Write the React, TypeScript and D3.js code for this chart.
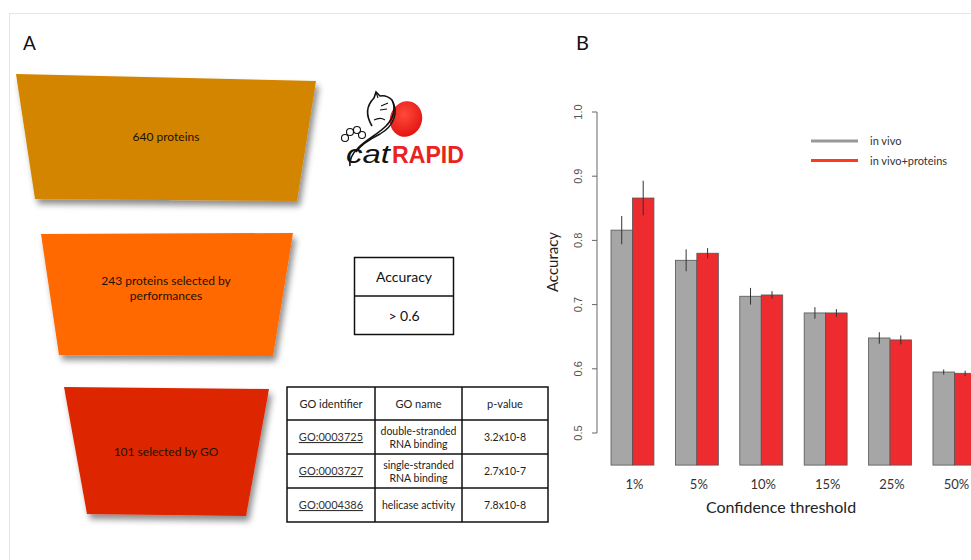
import React from "react";
import * as d3 from "d3";

const categories = ["1%", "5%", "10%", "15%", "25%", "50%"];
const seriesNames = ["in vivo", "in vivo+proteins"];
const inVivo = [0.816, 0.769, 0.713, 0.687, 0.648, 0.595];
const inVivoErr = [0.022, 0.017, 0.013, 0.009, 0.009, 0.004];
const inVivoProt = [0.866, 0.780, 0.715, 0.687, 0.645, 0.593];
const inVivoProtErr = [0.027, 0.008, 0.006, 0.006, 0.007, 0.004];
const yTicks = [0.5, 0.6, 0.7, 0.8, 0.9, 1.0];

const funnelLabels = [["640 proteins"], ["243 proteins selected by", "performances"], ["101 selected by GO"]];
const funnelColors = ["#d38500", "#ff6900", "#dd2600"];

const tableHeader = ["GO identifier", "GO name", "p-value"];
const goIds = ["GO:0003725", "GO:0003727", "GO:0004386"];
const goNames = [["double-stranded", "RNA binding"], ["single-stranded", "RNA binding"], ["helicase activity"]];
const pValues = ["3.2x10-8", "2.7x10-7", "7.8x10-8"];

const FONT = "Lato, 'Open Sans', sans-serif";

export default function App() {
  const y = d3.scaleLinear().domain([0.5, 1.0]).range([433, 112]);
  const x0 = d3.scaleBand<string>().domain(categories).range([611, 611 + 6 * 64.4 - 21.5]).paddingInner(1 / 3).paddingOuter(0);
  const x1 = d3.scaleBand<string>().domain(seriesNames).range([0, x0.bandwidth()]);
  const base = y(0.45);
  const series = [
    { name: seriesNames[0], vals: inVivo, errs: inVivoErr, color: "#a6a6a6" },
    { name: seriesNames[1], vals: inVivoProt, errs: inVivoProtErr, color: "#ee2b2e" },
  ];

  const funnels = [
    [[16, 74], [316, 81], [297, 201], [35, 199]],
    [[41, 234], [293, 233], [273, 356], [59, 355]],
    [[64, 387], [269, 389], [246, 516], [87, 514]],
  ];
  const funnelTextY = [141, 292, 456];

  const colX = [287, 375, 462, 548];
  const rowY = [387, 420, 454, 488, 522];

  return (
    <div style={{ position: "absolute", left: 0, top: 0 }}>
      <svg width={971} height={560} style={{ display: "block", background: "#fff" }}>
        <defs>
          <filter id="sh" x="-10%" y="-10%" width="130%" height="140%">
            <feDropShadow dx="3" dy="5" stdDeviation="3" floodColor="#000" floodOpacity="0.45" />
          </filter>
          <radialGradient id="blob" cx="0.4" cy="0.4" r="0.7">
            <stop offset="0" stopColor="#ff4a3a" />
            <stop offset="1" stopColor="#e0100f" />
          </radialGradient>
        </defs>
        {/* frame */}
        <line x1={9} y1={13.5} x2={971} y2={13.5} stroke="#e6e6e6" />
        <line x1={9.5} y1={13} x2={9.5} y2={560} stroke="#e6e6e6" />

        <text x={23} y={50} fontFamily={FONT} fontSize={19} fill="#111">A</text>
        <text x={576} y={50} fontFamily={FONT} fontSize={20} fill="#111">B</text>

        {/* funnel */}
        {funnels.map((pts, i) => (
          <g key={i}>
            <polygon points={pts.map((p) => p.join(",")).join(" ")} fill={funnelColors[i]} filter="url(#sh)" />
            {funnelLabels[i].map((t, j) => (
              <text key={j} x={166} y={funnelTextY[i] + (j - (funnelLabels[i].length - 1) / 2) * 15} textAnchor="middle" fontFamily={FONT} fontSize={12} fill="#1e1200">{t}</text>
            ))}
          </g>
        ))}

        {/* logo */}
        <g>
          <ellipse cx={406} cy={119} rx={16} ry={18} transform="rotate(20 406 119)" fill="url(#blob)" />
          <path d="M372,126 C366,116 366,106 374,98 L376,92 L380,96 C385,95 389,97 392,100 C396,108 394,118 386,126 C378,134 366,140 358,148 C352,154 349,160 350,166" fill="none" stroke="#111" strokeWidth={1.6} />
          <path d="M376,92 L378,98 M381,106 L388,103 M380,110 L387,109 M374,120 C378,118 382,118 385,120" fill="none" stroke="#111" strokeWidth={1.1} />
          <path d="M392,100 C399,112 394,126 380,134 C368,140 360,146 356,152" fill="none" stroke="#111" strokeWidth={1.4} />
          <circle cx={345} cy={138} r={3.5} fill="none" stroke="#111" strokeWidth={1.1} />
          <circle cx={350} cy={132} r={3.5} fill="none" stroke="#111" strokeWidth={1.1} />
          <circle cx={357} cy={130} r={3.5} fill="none" stroke="#111" strokeWidth={1.1} />
          <circle cx={362} cy={135} r={3.5} fill="none" stroke="#111" strokeWidth={1.1} />
          <text x={346} y={163} fontFamily="'Liberation Sans', Arial, sans-serif" fontStyle="italic" fontSize={25} fill="#111" textLength={44} lengthAdjust="spacingAndGlyphs">cat</text>
          <text x={392} y={163} fontFamily="'Liberation Sans', Arial, sans-serif" fontWeight="bold" fontSize={24} fill="#e82322" textLength={72} lengthAdjust="spacingAndGlyphs">RAPID</text>
        </g>

        {/* accuracy box */}
        <rect x={354.5} y={257.5} width={99} height={77} fill="none" stroke="#111" strokeWidth={1.5} />
        <line x1={354.5} x2={453.5} y1={296} y2={296} stroke="#111" strokeWidth={1.5} />
        <text x={404} y={282} textAnchor="middle" fontFamily={FONT} fontSize={14} fill="#111">Accuracy</text>
        <text x={404} y={321} textAnchor="middle" fontFamily={FONT} fontSize={14} fill="#111">&gt; 0.6</text>

        {/* GO table */}
        <rect x={colX[0]} y={rowY[0]} width={colX[3] - colX[0]} height={rowY[4] - rowY[0]} fill="none" stroke="#111" strokeWidth={1.5} />
        {colX.slice(1, 3).map((cx, i) => (
          <line key={"c" + i} x1={cx} x2={cx} y1={rowY[0]} y2={rowY[4]} stroke="#111" strokeWidth={1.5} />
        ))}
        {rowY.slice(1, 4).map((ry, i) => (
          <line key={"r" + i} x1={colX[0]} x2={colX[3]} y1={ry} y2={ry} stroke="#111" strokeWidth={1.5} />
        ))}
        {tableHeader.map((h, i) => (
          <text key={h} x={(colX[i] + colX[i + 1]) / 2} y={(rowY[0] + rowY[1]) / 2 + 4} textAnchor="middle" fontFamily={FONT} fontSize={11} fill="#222">{h}</text>
        ))}
        {goIds.map((g, r) => {
          const cy = (rowY[r + 1] + rowY[r + 2]) / 2;
          return (
            <g key={g}>
              <text x={(colX[0] + colX[1]) / 2} y={cy + 4} textAnchor="middle" fontFamily={FONT} fontSize={11} fill="#333" textDecoration="underline">{g}</text>
              {goNames[r].map((t, j) => (
                <text key={j} x={(colX[1] + colX[2]) / 2} y={cy + 4 + (j - (goNames[r].length - 1) / 2) * 13} textAnchor="middle" fontFamily={FONT} fontSize={10.5} fill="#222">{t}</text>
              ))}
              <text x={(colX[2] + colX[3]) / 2} y={cy + 4} textAnchor="middle" fontFamily={FONT} fontSize={10.5} fill="#222">{pValues[r]}</text>
            </g>
          );
        })}

        {/* Panel B */}
        <line x1={597} x2={597} y1={y(0.5)} y2={y(1.0)} stroke="#666" />
        {yTicks.map((t) => (
          <g key={t}>
            <line x1={592} x2={597} y1={y(t)} y2={y(t)} stroke="#666" />
            <text transform={`translate(582,${y(t)}) rotate(-90)`} textAnchor="middle" fontFamily="'Liberation Sans', Arial, sans-serif" fontSize={11} fill="#555">{t.toFixed(1)}</text>
          </g>
        ))}
        <text transform="translate(558,262) rotate(-90)" textAnchor="middle" fontFamily={FONT} fontSize={15} fill="#222">Accuracy</text>

        {categories.map((c, i) => (
          <g key={c}>
            {series.map((s) => {
              const bx = (x0(c) ?? 0) + (x1(s.name) ?? 0);
              const bw = x1.bandwidth();
              const top = y(s.vals[i]);
              return (
                <g key={s.name}>
                  <rect x={bx} y={top} width={bw} height={base - top} fill={s.color} stroke="#555" strokeWidth={0.8} />
                  <line x1={bx + bw / 2} x2={bx + bw / 2} y1={y(s.vals[i] + s.errs[i])} y2={y(s.vals[i] - s.errs[i])} stroke="#333" strokeWidth={1} />
                </g>
              );
            })}
            <text x={(x0(c) ?? 0) + x0.bandwidth() / 2 + 2} y={489} textAnchor="middle" fontFamily={FONT} fontSize={13} fill="#333">{c}</text>
          </g>
        ))}
        <text x={781} y={513} textAnchor="middle" fontFamily={FONT} fontSize={16} fill="#222">Confidence threshold</text>

        {series.map((s, i) => (
          <g key={s.name}>
            <line x1={811} x2={858} y1={141 + i * 19.5} y2={141 + i * 19.5} stroke={i === 0 ? "#999" : "#ff3a1c"} strokeWidth={3} />
            <text x={870} y={145 + i * 19.5} fontFamily={FONT} fontSize={11} fill="#333">{s.name}</text>
          </g>
        ))}
      </svg>
    </div>
  );
}
